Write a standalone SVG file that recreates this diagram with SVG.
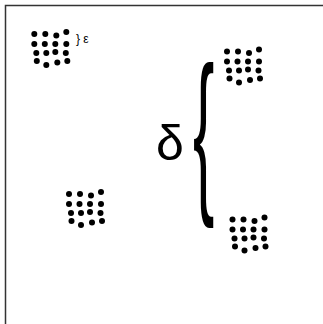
<svg xmlns="http://www.w3.org/2000/svg" width="323" height="324" viewBox="0 0 323 324">
<defs>
<style>
.d{fill:#000}
.t{font-family:"Liberation Sans",Arial,sans-serif;fill:#000}
</style>
<g id="cluster">
<circle class="d" cx="0" cy="0" r="3"/><circle class="d" cx="11" cy="0" r="3"/><circle class="d" cx="22" cy="1.5" r="3"/><circle class="d" cx="32" cy="-2" r="3"/>
<circle class="d" cx="0" cy="10" r="3"/><circle class="d" cx="10.5" cy="10" r="3"/><circle class="d" cx="21" cy="10" r="3"/><circle class="d" cx="32" cy="10" r="3"/>
<circle class="d" cx="2" cy="19" r="3"/><circle class="d" cx="12" cy="19" r="3"/><circle class="d" cx="21" cy="18" r="3"/><circle class="d" cx="31.5" cy="19" r="3"/>
<circle class="d" cx="2.5" cy="27" r="3"/><circle class="d" cx="12" cy="31" r="3"/><circle class="d" cx="23" cy="28.5" r="3"/><circle class="d" cx="33" cy="27" r="3"/>
</g>
</defs>
<rect x="0" y="0" width="323" height="324" fill="#fff"/>
<rect x="5.5" y="5.5" width="400" height="400" fill="none" stroke="#333" stroke-width="1.5"/>
<g id="c1"><use href="#cluster" x="34.3" y="34"/></g>
<g id="c2"><use href="#cluster" x="227" y="51.5"/></g>
<g id="c3"><use href="#cluster" x="69" y="194"/></g>
<g id="c4"><use href="#cluster" x="232.5" y="219.5"/></g>
<g id="eps"><text class="t" x="76" y="43" font-size="12">} ε</text></g>
<g id="delta"><text class="t" x="156" y="160" font-size="50">δ</text></g>
<g id="brace"><text class="t" transform="translate(193,190.5) scale(1,2.78)" font-size="64">{</text></g>
</svg>
